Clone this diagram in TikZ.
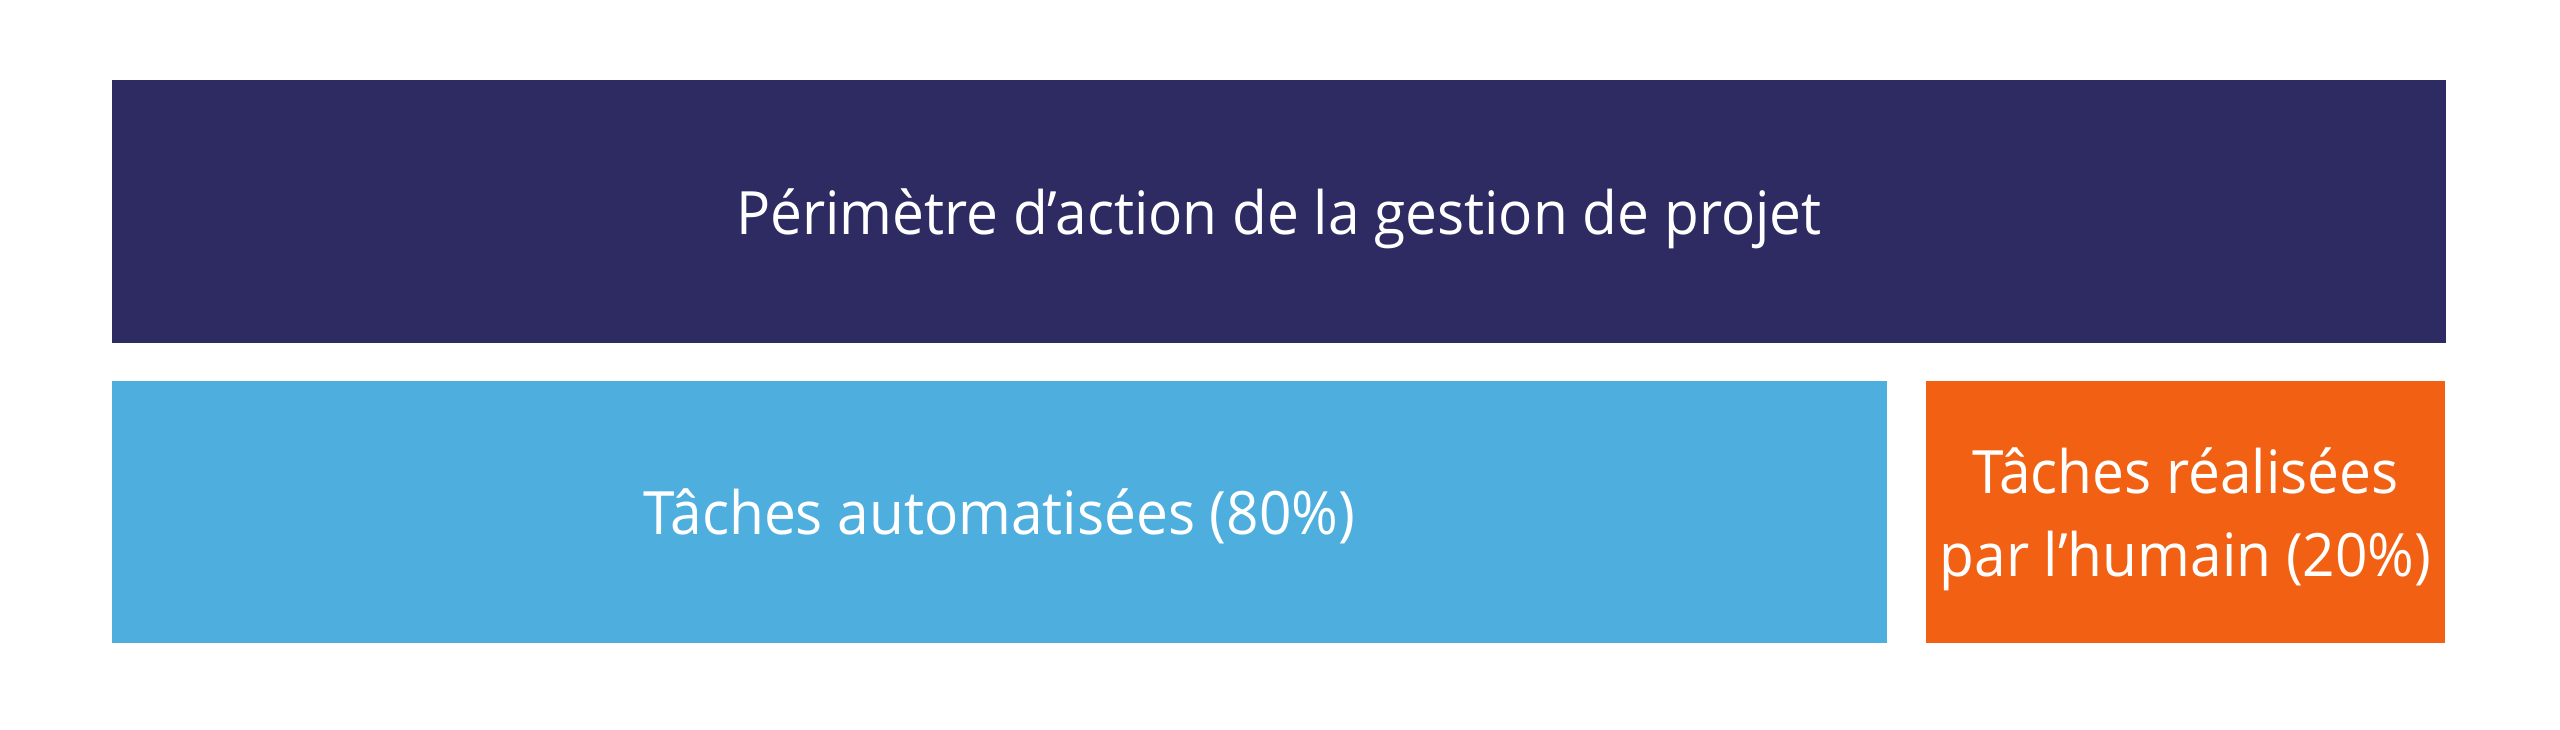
\documentclass[tikz,border=0pt]{standalone}
\usepackage{fontspec}
\setmainfont[FakeStretch=0.95]{Open Sans}
\usepackage{tikz}
\usetikzlibrary{positioning}
\definecolor{navy}{RGB}{46,43,99}
\definecolor{skyblue}{RGB}{78,175,223}
\definecolor{orange}{RGB}{242,97,19}
\tikzstyle{block} = [rectangle, text=white, text centered, inner sep=0pt, text depth=0pt, minimum height=2.62cm, font=\fontsize{17}{23.6}\selectfont]

\begin{document}
\begin{tikzpicture}[x=0.01cm, y=-0.01cm]
        \useasboundingbox[fill=white] (0,0) rectangle (2560,729);
        \node[block, fill=navy, minimum width=23.32cm, minimum height=2.63cm] (scope) at (1279,211.5) {P\'erim\`etre d’action de la gestion de projet};
        \node[block, fill=skyblue, minimum width=17.73cm] (auto) at (999.5,512) {T\^aches automatis\'ees (80\%)};
        \node[block, fill=orange, minimum width=5.19cm, align=center] (human) at (2185.5,512) {T\^aches r\'ealis\'ees\\par l’humain (20\%)};
    \end{tikzpicture}
\end{document}
